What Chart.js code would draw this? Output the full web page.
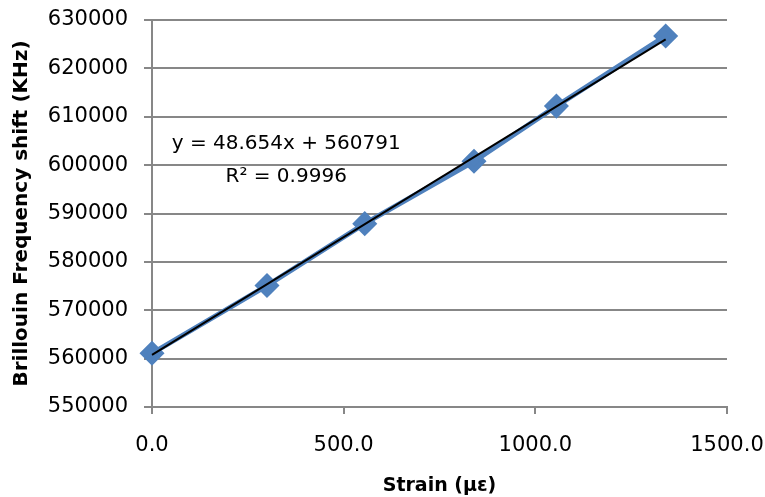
<!DOCTYPE html>
<html>
<head>
<meta charset="utf-8">
<script src="https://cdn.jsdelivr.net/npm/chart.js@4"></script>
<style>
	html, body { margin: 0; padding: 0; background: #fff; }
	#wrap { width: 765px; height: 497px; }
</style>
</head>
<body>
<div id="wrap"><canvas id="grafico" width="765" height="497"></canvas></div>
<script>
const strain = [0, 300, 555, 840, 1055, 1340];
const freqShift = [561100, 575100, 587900, 600800, 612200, 626700];
const trendX = [0, 1340];
const trendY = [560791, 625987];
const eqLines = ['y = 48.654x + 560791', 'R² = 0.9996'];

const fontName = 'DejaVu Sans';

document.addEventListener('DOMContentLoaded', function () {
	const ctx = document.getElementById('grafico').getContext('2d');

	const serie = strain.map((x, i) => ({ x: x, y: freqShift[i] }));
	const tendencia = trendX.map((x, i) => ({ x: x, y: trendY[i] }));

	// texto da equacao da linha de tendencia
	const equacao = {
		id: 'equacao',
		afterDatasetsDraw(chart) {
			const c = chart.ctx;
			const xs = chart.scales.x, ys = chart.scales.y;
			const cx = xs.getPixelForValue(350);
			const cy = ys.getPixelForValue(604500);
			c.save();
			c.fillStyle = '#000';
			c.font = '20px ' + fontName;
			c.textAlign = 'center';
			c.textBaseline = 'middle';
			c.fillText(eqLines[0], cx, cy);
			c.fillText(eqLines[1], cx, cy + 33);
			c.restore();
		}
	};

	new Chart(ctx, {
		type: 'scatter',
		data: {
			datasets: [
				{
					data: tendencia,
					showLine: true,
					borderColor: '#000000',
					borderWidth: 2,
					pointRadius: 0,
					clip: false,
					order: 0,
				},
				{
					data: serie,
					showLine: true,
					borderColor: '#4F81BD',
					backgroundColor: '#4F81BD',
					borderWidth: 5,
					pointStyle: 'rectRot',
					pointRadius: 9,
					pointHoverRadius: 9,
					tension: 0,
					clip: false,
					order: 1,
				},
			],
		},
		options: {
			responsive: false,
			animation: false,
			layout: { padding: { top: 20, right: 38, left: 0, bottom: 0 } },
			plugins: {
				legend: { display: false },
				tooltip: { enabled: false },
			},
			scales: {
				x: {
					type: 'linear',
					min: 0,
					max: 1500,
					afterFit: function (scale) {
						scale.height = 90;
						scale.paddingLeft = 0;
						scale.paddingRight = 0;
					},
					ticks: {
						stepSize: 500,
						color: '#000',
						font: { family: fontName, size: 21 },
						padding: 19,
						callback: v => v.toFixed(1),
					},
					grid: { drawOnChartArea: false, drawTicks: true, tickLength: 7, color: '#878787', lineWidth: 2 },
					border: { color: '#878787', width: 2 },
					title: {
						display: true,
						text: 'Strain (με)',
						color: '#000',
						font: { family: fontName, size: 19, weight: 'bold' },
						padding: { top: 0, bottom: 0 },
					},
				},
				y: {
					min: 550000,
					max: 630000,
					afterFit: function (scale) {
						scale.width = 152;
						scale.paddingTop = 0;
						scale.paddingBottom = 0;
					},
					ticks: {
						stepSize: 10000,
						color: '#000',
						font: { family: fontName, size: 21 },
						padding: 16,
						callback: v => String(v),
					},
					grid: { color: '#878787', lineWidth: 2, tickLength: 8 },
					border: { color: '#878787', width: 2 },
					title: {
						display: true,
						text: 'Brillouin Frequency shift (KHz)',
						color: '#000',
						font: { family: fontName, size: 20, weight: 'bold' },
						padding: { top: 10, bottom: 0 },
					},
				},
			},
		},
		plugins: [equacao],
	});
});
</script>
</body>
</html>
